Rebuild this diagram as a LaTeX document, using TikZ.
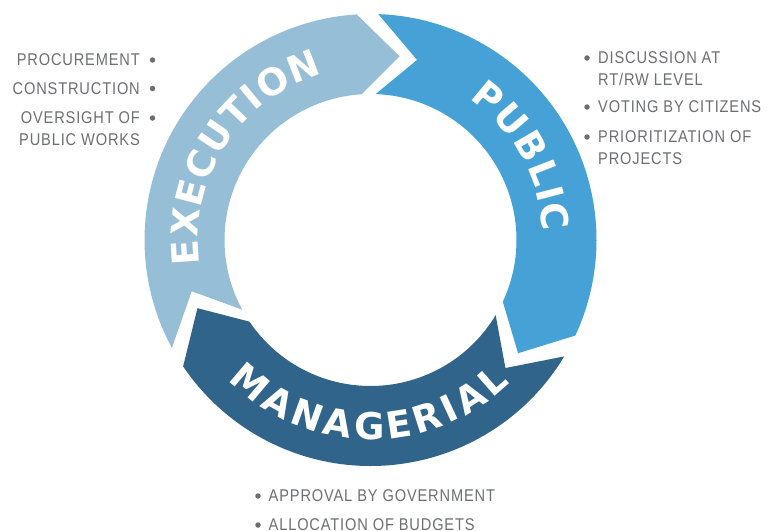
\documentclass[tikz,border=0pt]{standalone}
\usepackage{fontspec}
\setmainfont{Liberation Sans}
\newfontfamily\listfont{Liberation Sans}[FakeStretch=0.86,LetterSpace=5]
\newfontfamily\ringfont{DejaVu Sans}[UprightFont={* Bold}]
\usetikzlibrary{decorations.text}
\definecolor{execC}{RGB}{150,190,215}
\definecolor{pubC}{RGB}{70,162,214}
\definecolor{manC}{RGB}{49,100,138}
\definecolor{txtgray}{RGB}{109,110,113}
\newcommand\ringseg[3]{%
  \fill[#3] (#1:226) arc[start angle=#1,end angle=#2,radius=226]
    -- ({#2-12.5}:186) -- (#2:146)
    arc[start angle=#2,end angle=#1,radius=146]
    -- ({#1-12.5}:186) -- cycle;}
\newcommand\ringtext[4]{% text, start, end, radius
  {\ringfont\fontsize{37}{37}\selectfont
  \path[decorate, decoration={text along path,
     text={#1},
     text color=white, text align=fit to path}]
     (#2:#4) arc[start angle=#2,end angle=#3,radius=#4];}}
\begin{document}
\begin{tikzpicture}[x=1pt,y=-1pt,
  item/.style={inner sep=0pt, text=txtgray, font=\listfont\fontsize{17}{22}\selectfont},
  dot/.style={circle, fill=txtgray, inner sep=0pt, minimum size=5.5pt}]
\useasboundingbox (0,0) rectangle (770,530);
\clip (0,0) rectangle (770,530);
\begin{scope}[shift={(370.5,240)}, y=1pt]
  \ringseg{208.5}{93.5}{execC}
  \ringseg{88}{-25}{pubC}
  \ringseg{-31}{-146}{manC}
  \ringtext{EXECUTION}{188}{106}{172.5}
  \ringtext{PUBLIC}{55}{2.7}{172.5}
  \ringtext{MANAGERIAL}{224.6}{314.4}{199.5}
\end{scope}
% left list
\node[item, anchor=east] (proc) at (140,60) {PROCUREMENT};
\node[dot] (procdot) at (152.5,60) {};
\node[item, anchor=east] (cons) at (140,88.5) {CONSTRUCTION};
\node[dot] (consdot) at (152.5,88.5) {};
\node[item, anchor=north east, align=right] (overs) at (140,111.9) {OVERSIGHT OF\\PUBLIC WORKS};
\node[dot] (oversdot) at (152.5,118) {};
% right list
\node[dot] (discdot) at (587,58) {};
\node[item, anchor=north west, align=left] (disc) at (598,51.9) {DISCUSSION AT\\RT/RW LEVEL};
\node[dot] (votedot) at (587,107) {};
\node[item, anchor=west] (vote) at (598,107) {VOTING BY CITIZENS};
\node[dot] (priodot) at (587,137) {};
\node[item, anchor=north west, align=left] (prio) at (598,130.9) {PRIORITIZATION OF\\PROJECTS};
% bottom list
\node[dot] (apprdot) at (258,496) {};
\node[item, anchor=west] (appr) at (268.5,496) {APPROVAL BY GOVERNMENT};
\node[dot] (allocdot) at (258,525) {};
\node[item, anchor=west] (alloc) at (268.5,525) {ALLOCATION OF BUDGETS};
\end{tikzpicture}
\end{document}
